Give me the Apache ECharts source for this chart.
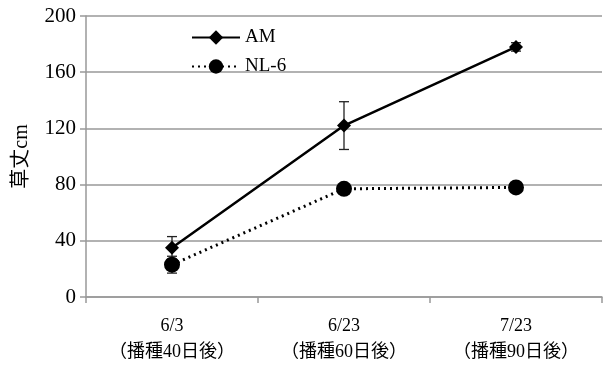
<!DOCTYPE html>
<html><head><meta charset="utf-8">
<script src="https://cdn.jsdelivr.net/npm/echarts@6/dist/echarts.min.js"></script>
<style>html,body{margin:0;padding:0;background:#fff}#c{width:608px;height:365px}</style>
</head><body><div id="c"></div>
<script>
const categories = ['6/3\n（播種40日後）', '6/23\n（播種60日後）', '7/23\n（播種90日後）'];
const amValues = [35, 122, 178];
const amErr = [8, 17, 3];
const nlValues = [23, 77, 78];
const nlErr = [6, 0, 0];
const yTicks = {min: 0, max: 200, interval: 40};

const serif = '"Liberation Serif", "DejaVu Serif", "Noto Sans CJK JP", serif';

function errSeries(vals, errs) {
  return {
    type: 'custom',
    z: 1,
    silent: true,
    data: vals.map((v, i) => [i, v - errs[i], v + errs[i]]),
    renderItem: function (params, api) {
      const lo = api.coord([api.value(0), api.value(1)]);
      const hi = api.coord([api.value(0), api.value(2)]);
      const w = 5;
      const st = {stroke: '#222', lineWidth: 1.3};
      return {type: 'group', children: [
        {type: 'line', shape: {x1: lo[0], y1: lo[1], x2: hi[0], y2: hi[1]}, style: st},
        {type: 'line', shape: {x1: hi[0] - w, y1: hi[1], x2: hi[0] + w, y2: hi[1]}, style: st},
        {type: 'line', shape: {x1: lo[0] - w, y1: lo[1], x2: lo[0] + w, y2: lo[1]}, style: st}
      ]};
    }
  };
}

const chart = echarts.init(document.getElementById('c'), null, {renderer: 'canvas'});
chart.setOption({
  animation: false,
  backgroundColor: '#fff',
  grid: {left: 86, right: 6, top: 16, bottom: 68, outerBoundsMode: 'none', containLabel: false},
  legend: {
    left: 186, top: 23, orient: 'vertical', itemGap: 10,
    itemWidth: 48, itemHeight: 18,
    textStyle: {fontFamily: serif, fontSize: 19, color: '#000'},
    data: ['AM', 'NL-6']
  },
  xAxis: {
    type: 'category', data: categories, boundaryGap: true,
    axisLine: {lineStyle: {color: '#999', width: 1.5}},
    axisTick: {show: true, length: 6, lineStyle: {color: '#999', width: 1.5}},
    axisLabel: {fontFamily: serif, fontSize: 18, color: '#000', lineHeight: 26, margin: 16}
  },
  yAxis: {
    type: 'value', min: yTicks.min, max: yTicks.max, interval: yTicks.interval,
    name: '草丈cm', nameLocation: 'middle', nameGap: 54, nameRotate: 90,
    nameTextStyle: {fontFamily: serif, fontSize: 20, color: '#000'},
    axisLine: {show: true, lineStyle: {color: '#999', width: 1.5}},
    axisTick: {show: true, length: 6, lineStyle: {color: '#999', width: 1.5}},
    axisLabel: {fontFamily: serif, fontSize: 21, color: '#000', margin: 10},
    splitLine: {lineStyle: {color: '#999', width: 1.5}}
  },
  series: [
    errSeries(amValues, amErr),
    errSeries(nlValues, nlErr),
    {
      name: 'AM', type: 'line', data: amValues, z: 3,
      symbol: 'diamond', symbolSize: 14,
      lineStyle: {color: '#000', width: 2.5},
      itemStyle: {color: '#000'}
    },
    {
      name: 'NL-6', type: 'line', data: nlValues, z: 2,
      symbol: 'circle', symbolSize: 16,
      lineStyle: {color: '#000', width: 3, type: [2, 4]},
      itemStyle: {color: '#000'}
    }
  ]
});
</script></body></html>
